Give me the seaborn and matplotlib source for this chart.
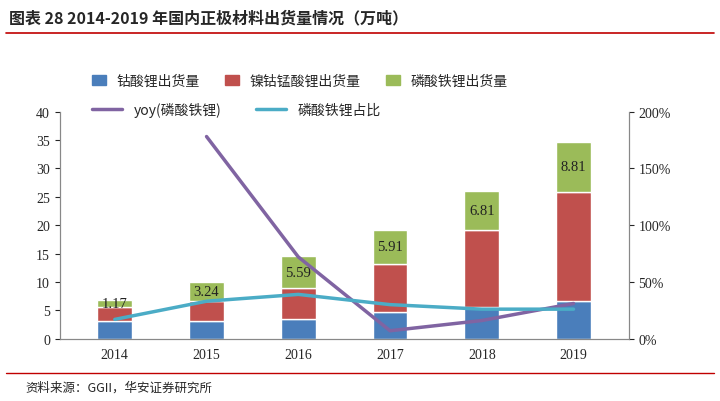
import numpy as np
import pandas as pd
import matplotlib.pyplot as plt
import seaborn as sns
from matplotlib.patches import Patch
from matplotlib.lines import Line2D
from matplotlib.ticker import FuncFormatter

years = ['2014', '2015', '2016', '2017', '2018', '2019']
lco = [3.2, 3.2, 3.5, 4.7, 5.6, 6.7]
ncm = [2.4, 3.5, 5.4, 8.5, 13.6, 19.2]
lfp = [1.17, 3.24, 5.59, 5.91, 6.81, 8.81]
yoy = [np.nan, 178, 72, 7, 16, 31]
share = [17, 33, 39, 30, 26, 26]

sns.set_style('white')
plt.rcParams['font.family'] = ['Noto Sans CJK SC', 'DejaVu Sans']

c_blue, c_red, c_green = '#4a7ebb', '#c0504d', '#9bbb59'
c_purple, c_cyan = '#8064a2', '#4bacc6'

fig = plt.figure(figsize=(7.2, 4.02), dpi=100)
ax = fig.add_axes([0.083, 0.155, 0.79, 0.565])
df = pd.DataFrame({'year': years, 'lco': lco, 'ncm': ncm, 'lfp': lfp})
x = np.arange(len(years))
w = 0.38
b1 = np.array(lco)
b2 = b1 + np.array(ncm)
ax.bar(x, lco, w, color=c_blue)
ax.bar(x, ncm, w, bottom=b1, color=c_red)
ax.bar(x, lfp, w, bottom=b2, color=c_green)
for xi, base, v in zip(x, b2, lfp):
    ax.text(xi, base + v / 2, f'{v:.2f}', ha='center', va='center', fontsize=10.5,
            family='Liberation Serif', color='#222222')
ax.set_ylim(0, 40)
ax.set_xlim(-0.6, 5.6)
ax.set_yticks(range(0, 41, 5))
ax.set_xticks(x)
ax.set_xticklabels(years, family='Liberation Serif', fontsize=10)
for t in ax.get_yticklabels():
    t.set_family('Liberation Serif')
ax.tick_params(axis='y', labelsize=10)

ax2 = ax.twinx()
sns.lineplot(x=x, y=yoy, ax=ax2, color=c_purple, lw=2.5)
sns.lineplot(x=x, y=share, ax=ax2, color=c_cyan, lw=2.5)
ax2.set_ylim(0, 200)
ax2.set_yticks(range(0, 201, 50))
ax2.yaxis.set_major_formatter(FuncFormatter(lambda v, p: f'{int(v)}%'))
for t in ax2.get_yticklabels():
    t.set_family('Liberation Serif')
ax2.tick_params(axis='y', labelsize=10)
for a in (ax, ax2):
    for s in a.spines.values():
        s.set_color('#888888')
    a.spines['top'].set_visible(False)

h1 = [Patch(color=c_blue, label='钴酸锂出货量'), Patch(color=c_red, label='镍钴锰酸锂出货量'),
      Patch(color=c_green, label='磷酸铁锂出货量')]
h2 = [Line2D([], [], color=c_purple, lw=2.5, label='yoy(磷酸铁锂)'),
      Line2D([], [], color=c_cyan, lw=2.5, label='磷酸铁锂占比')]
fig.legend(handles=h1, loc='upper left', bbox_to_anchor=(0.11, 0.845), ncol=3, frameon=False,
           fontsize=10, handlelength=1.0, columnspacing=1.8)
fig.legend(handles=h2, loc='upper left', bbox_to_anchor=(0.11, 0.775), ncol=2, frameon=False,
           fontsize=10, handlelength=2.2, columnspacing=2.5)

fig.text(0.012, 0.955, '图表 28 2014-2019 年国内正极材料出货量情况（万吨）', fontsize=11.5,
         fontweight='bold', va='center')
fig.add_artist(Line2D([0.008, 0.992], [0.915, 0.915], color='#c00000', lw=1.2))
fig.add_artist(Line2D([0.008, 0.992], [0.07, 0.07], color='#c00000', lw=1.0))
fig.text(0.035, 0.035, '资料来源：GGII，华安证券研究所', fontsize=9, va='center')
fig.savefig('out.png', dpi=100)
